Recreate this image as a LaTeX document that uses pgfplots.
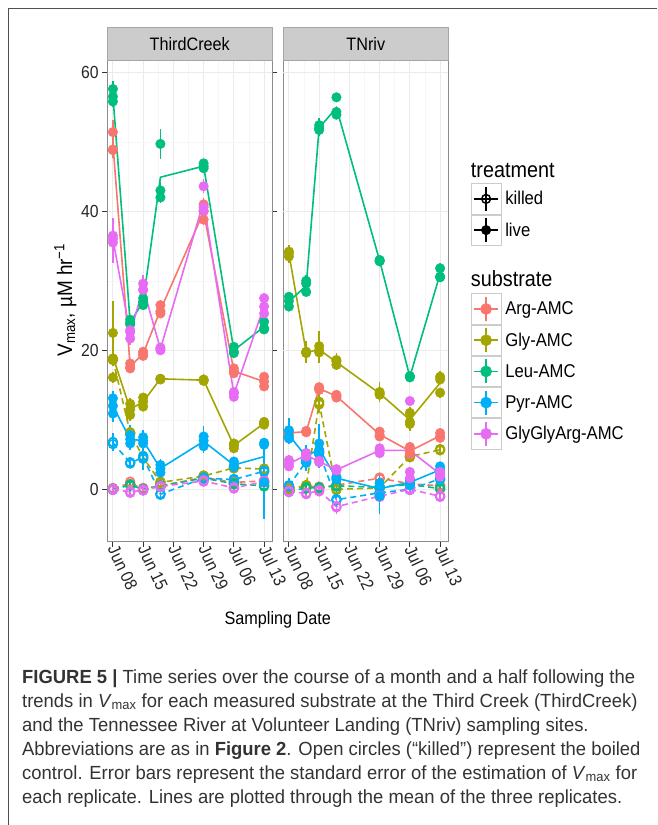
\documentclass[border=0pt]{standalone}
\usepackage{pgfplots}
\pgfplotsset{compat=1.18}
\usepackage{pgfplotstable}
\usepackage{fontspec}
\setmainfont[FakeStretch=0.9]{Liberation Sans}
\newfontfamily\capfont[FakeStretch=0.97]{Liberation Sans}

\definecolor{cArg}{HTML}{F8766D}
\definecolor{cGly}{HTML}{A3A500}
\definecolor{cLeu}{HTML}{00BF7D}
\definecolor{cPyr}{HTML}{00B0F6}
\definecolor{cGGA}{HTML}{E76BF3}
\definecolor{gridmaj}{HTML}{EBEBEB}
\definecolor{gridmin}{HTML}{F6F6F6}
\definecolor{border}{HTML}{8C8C8C}
\definecolor{stripfill}{HTML}{CCCCCC}
\definecolor{stripdraw}{HTML}{A6A6A6}
\definecolor{keybox}{HTML}{CCCCCC}
\definecolor{captext}{HTML}{333333}
\definecolor{frame}{HTML}{505050}

% columns: day, mean of replicates, then replicate value / standard error pairs
% ---------------- ThirdCreek, live ----------------
\pgfplotstableread{
d m y1 e1 y2 e2 y3 e3
0 49.7 51.4 1.8 48.8 1.2 48.9 1.0
4 17.7 17.6 0.6 18.1 0.5 17.4 0.5
7 19.5 19.8 0.6 19.2 0.5 19.5 0.5
11 25.8 26.5 0.8 25.3 0.7 25.6 0.6
21 39.9 41.0 0.9 40.0 0.8 38.8 0.8
28 17.0 17.4 0.6 16.7 0.5 17.0 0.5
35 15.5 16.2 0.6 15.5 0.5 14.8 0.5
}\tcArgL
\pgfplotstableread{
d m y1 e1 y2 e2 y3 e3
0 19.1 22.5 4.6 18.8 1.0 16.1 0.8
4 11.5 12.3 0.8 10.7 0.8 11.5 0.6
7 12.6 13.2 0.6 11.9 0.6 12.6 0.5
11 15.9 15.9 0.5 15.9 0.5 15.8 0.5
21 15.7 15.7 0.9 15.6 0.7 15.8 0.6
28 6.3 6.6 0.6 5.9 0.5 6.3 0.5
35 9.5 9.7 0.6 9.3 0.5 9.5 0.5
}\tcGlyL
\pgfplotstableread{
d m y1 e1 y2 e2 y3 e3
0 56.6 57.6 1.2 56.5 0.9 55.8 0.8
4 24.0 24.4 0.7 23.7 0.6 24.0 0.5
7 27.0 27.5 0.6 26.5 0.6 27.0 0.5
11 44.9 49.7 2.2 43.0 1.2 42.0 0.8
21 46.5 46.9 0.6 46.5 0.5 46.2 0.5
28 20.0 20.5 0.6 19.8 0.5 19.6 0.5
35 23.4 24.1 0.6 23.2 0.5 23.0 0.5
}\tcLeuL
\pgfplotstableread{
d m y1 e1 y2 e2 y3 e3
0 12.0 13.1 1.0 10.9 1.2 12.0 0.8
4 7.2 7.8 1.5 6.6 1.0 7.2 0.8
7 7.0 7.5 1.0 6.6 0.8 7.0 0.7
11 3.0 3.5 0.8 2.4 0.8 3.0 0.6
21 6.9 7.6 1.5 6.2 1.0 7.0 0.8
28 3.5 4.0 0.7 3.2 0.6 3.4 0.6
35 4.7 6.4 0.8 6.7 0.7 1.0 5.3
}\tcPyrL
\pgfplotstableread{
d m y1 e1 y2 e2 y3 e3
0 36.0 36.5 2.6 35.5 2.9 36.0 1.5
4 22.4 22.9 1.5 21.7 1.0 22.6 0.8
7 29.0 29.6 1.2 28.7 0.8 28.7 0.6
11 20.2 20.2 0.6 20.0 0.5 20.4 0.5
21 41.4 43.6 1.0 40.6 0.8 40.1 0.8
28 13.7 14.0 0.6 13.3 0.5 13.8 0.5
35 26.4 27.5 0.8 26.3 0.6 25.3 0.6
}\tcGGAL
% ---------------- ThirdCreek, killed ----------------
\pgfplotstableread{
d m y1 e1 y2 e2 y3 e3
0 0.1 0.2 0.4 0.0 0.3 0.1 0.3
4 0.9 1.1 0.4 0.8 0.4 0.8 0.3
7 0.1 0.1 0.3 0.0 0.3 0.2 0.3
11 0.5 0.6 0.4 0.3 0.3 0.5 0.3
21 1.7 1.8 0.4 1.5 0.4 1.8 0.3
28 1.0 1.1 0.4 0.9 0.3 1.0 0.3
35 1.2 1.3 0.4 1.0 0.3 1.3 0.3
}\tcArgK
\pgfplotstableread{
d m y1 e1 y2 e2 y3 e3
0 18.7 18.8 0.8 18.6 0.6 18.7 0.6
4 8.1 8.2 0.8 8.0 0.6 8.1 0.6
7 4.6 4.8 1.0 4.4 0.8 4.6 0.7
11 1.0 1.1 0.4 0.9 0.4 1.0 0.3
21 1.9 2.0 0.4 1.8 0.4 1.9 0.3
28 3.1 3.2 0.5 3.0 0.4 3.1 0.4
35 2.9 3.0 0.5 2.8 0.4 2.9 0.4
}\tcGlyK
\pgfplotstableread{
d m y1 e1 y2 e2 y3 e3
0 0.0 0.1 0.3 -0.1 0.3 0.0 0.3
4 0.6 0.7 0.3 0.5 0.3 0.6 0.3
7 0.0 0.1 0.3 -0.1 0.3 0.0 0.3
11 0.5 0.6 0.3 0.4 0.3 0.5 0.3
21 1.6 1.7 0.4 1.5 0.3 1.6 0.3
28 0.8 0.9 0.3 0.7 0.3 0.8 0.3
35 0.5 0.6 0.3 0.4 0.3 0.5 0.3
}\tcLeuK
\pgfplotstableread{
d m y1 e1 y2 e2 y3 e3
0 6.7 6.8 1.3 6.5 1.0 6.8 0.8
4 3.8 3.9 0.8 3.7 0.6 3.8 0.6
7 4.6 4.8 2.0 4.4 1.5 4.6 1.0
11 -0.7 -0.6 1.0 -0.8 0.8 -0.7 0.6
21 1.6 1.7 0.5 1.5 0.4 1.6 0.4
28 1.4 1.5 0.5 1.3 0.4 1.4 0.4
35 2.6 2.7 0.6 2.5 0.5 2.6 0.4
}\tcPyrK
\pgfplotstableread{
d m y1 e1 y2 e2 y3 e3
0 0.0 0.1 0.3 -0.1 0.3 0.0 0.3
4 -0.4 -0.3 0.4 -0.5 0.3 -0.4 0.3
7 -0.1 0.0 0.3 -0.2 0.3 -0.1 0.3
11 0.4 0.5 0.3 0.3 0.3 0.4 0.3
21 1.2 1.3 0.4 1.1 0.3 1.2 0.3
28 0.2 0.3 0.3 0.1 0.3 0.2 0.3
35 1.1 1.2 0.4 1.0 0.3 1.1 0.3
}\tcGGAK
% ---------------- TNriv, live ----------------
\pgfplotstableread{
d m y1 e1 y2 e2 y3 e3
0 8.1 8.1 0.5 8.0 0.4 8.2 0.4
4 8.3 8.4 0.5 8.2 0.4 8.3 0.4
7 14.5 14.7 0.6 14.3 0.5 14.5 0.5
11 13.4 13.6 0.6 13.2 0.5 13.4 0.5
21 7.9 8.3 0.5 7.6 0.5 7.8 0.4
28 5.5 6.1 0.5 5.4 0.5 5.0 0.4
35 7.7 8.1 0.5 7.4 0.5 7.6 0.4
}\tnArgL
\pgfplotstableread{
d m y1 e1 y2 e2 y3 e3
0 33.9 34.0 1.2 33.5 0.9 34.2 0.8
4 19.7 19.8 1.6 19.6 1.2 19.7 1.0
7 20.1 20.6 2.2 19.7 1.5 20.0 1.0
11 18.3 18.6 1.0 17.9 0.8 18.4 0.7
21 13.8 14.0 1.4 13.6 1.0 13.8 0.8
28 10.0 11.0 0.8 9.7 0.8 9.4 1.0
35 15.3 16.2 0.8 13.9 0.7 15.8 0.6
}\tnGlyL
\pgfplotstableread{
d m y1 e1 y2 e2 y3 e3
0 27.0 27.7 0.7 26.3 0.6 27.1 0.6
4 29.3 30.0 0.8 29.6 0.7 28.4 0.6
7 52.0 52.4 1.0 51.7 0.8 52.0 0.7
11 54.9 56.4 0.6 54.3 0.6 53.9 0.6
21 32.9 33.0 0.6 32.8 0.5 32.9 0.5
28 16.2 16.3 0.6 16.1 0.5 16.2 0.5
35 31.0 31.8 0.8 30.5 0.7 30.6 0.6
}\tnLeuL
\pgfplotstableread{
d m y1 e1 y2 e2 y3 e3
0 7.8 8.5 1.8 7.6 1.0 7.3 0.8
4 4.7 5.2 1.2 4.8 0.9 4.0 0.8
7 5.8 6.6 2.8 5.7 1.5 5.2 1.0
11 1.6 1.8 0.8 1.4 0.6 1.6 0.6
21 0.1 0.9 1.2 -1.0 2.5 0.4 1.0
28 1.0 1.4 0.6 0.6 0.5 1.0 0.5
35 2.8 3.3 0.6 2.3 0.5 2.8 0.5
}\tnPyrL
\pgfplotstableread{
d m y1 e1 y2 e2 y3 e3
0 3.7 4.2 0.8 3.3 0.7 3.7 0.6
4 4.9 5.2 0.6 4.7 0.5 4.9 0.5
7 4.0 4.1 0.5 3.9 0.5 4.0 0.5
11 2.8 2.9 0.5 2.7 0.5 2.8 0.5
21 5.6 5.9 0.5 5.2 0.5 5.6 0.5
28 5.6 12.7 0.5 2.5 0.5 1.6 0.5
35 2.2 2.5 0.5 1.9 0.5 2.2 0.5
}\tnGGAL
% ---------------- TNriv, killed ----------------
\pgfplotstableread{
d m y1 e1 y2 e2 y3 e3
0 0.2 0.3 0.3 0.1 0.3 0.2 0.3
4 0.5 0.6 0.3 0.4 0.3 0.5 0.3
7 0.3 0.4 0.3 0.2 0.3 0.3 0.3
11 0.6 0.7 0.3 0.5 0.3 0.6 0.3
21 1.6 1.7 0.4 1.5 0.3 1.6 0.3
28 0.8 0.9 0.3 0.7 0.3 0.8 0.3
35 0.5 0.6 0.3 0.4 0.3 0.5 0.3
}\tnArgK
\pgfplotstableread{
d m y1 e1 y2 e2 y3 e3
0 0.0 0.1 0.3 -0.1 0.3 0.0 0.3
4 0.5 0.6 0.3 0.4 0.3 0.5 0.3
7 12.4 12.6 1.5 12.2 1.2 12.4 1.0
11 0.0 0.1 0.4 -0.1 0.3 0.0 0.3
21 0.2 0.3 0.4 0.1 0.3 0.2 0.3
28 4.7 4.8 0.8 4.6 0.6 4.7 0.5
35 5.7 5.8 0.6 5.6 0.5 5.7 0.5
}\tnGlyK
\pgfplotstableread{
d m y1 e1 y2 e2 y3 e3
0 -0.3 -0.2 0.3 -0.4 0.3 -0.3 0.3
4 0.2 0.3 0.3 0.1 0.3 0.2 0.3
7 0.2 0.3 0.3 0.1 0.3 0.2 0.3
11 0.5 0.6 0.3 0.4 0.3 0.5 0.3
21 0.3 0.4 0.3 0.2 0.3 0.3 0.3
28 0.7 0.8 0.3 0.6 0.3 0.7 0.3
35 0.1 0.2 0.3 0.0 0.3 0.1 0.3
}\tnLeuK
\pgfplotstableread{
d m y1 e1 y2 e2 y3 e3
0 0.5 0.6 1.0 0.4 0.8 0.5 0.6
4 4.0 4.2 1.5 3.8 1.2 4.0 1.0
7 5.3 5.5 2.5 5.1 1.5 5.3 1.0
11 -1.5 -1.4 1.5 -1.6 1.0 -1.5 0.8
21 -0.5 -0.4 1.0 -0.6 0.8 -0.5 0.6
28 0.0 0.1 0.5 -0.1 0.4 0.0 0.4
35 1.5 1.6 0.6 1.4 0.5 1.5 0.4
}\tnPyrK
\pgfplotstableread{
d m y1 e1 y2 e2 y3 e3
0 -0.3 -0.2 0.4 -0.4 0.3 -0.3 0.3
4 -0.6 -0.5 0.4 -0.7 0.3 -0.6 0.3
7 -0.2 -0.1 0.4 -0.3 0.3 -0.2 0.3
11 -2.5 -2.4 1.2 -2.6 0.8 -2.5 0.6
21 -1.0 -0.9 0.6 -1.1 0.5 -1.0 0.4
28 0.0 0.1 0.4 -0.1 0.3 0.0 0.3
35 -1.0 -0.9 0.5 -1.1 0.4 -1.0 0.3
}\tnGGAK

\pgfplotsset{
  liveline/.style={solid, line width=1.6pt},
  killedline/.style={dash pattern=on 6pt off 4pt, line width=1.6pt},
  livepts/.style={mark=*, mark size=4.8pt, mark options={solid}},
  killedpts/.style={mark=o, mark size=4.4pt, mark options={solid, line width=1.5pt}},
  panel/.style={
    scale only axis, width=165pt, height=481.7pt, anchor=south west,
    xmin=-1.3, xmax=36.9, ymin=-7.54, ymax=61.77,
    xtick={0,7,14,21,28,35},
    xticklabels={Jun 08,Jun 15,Jun 22,Jun 29,Jul 06,Jul 13},
    minor xtick={3.5,10.5,17.5,24.5,31.5},
    minor ytick={10,30,50},
    grid=both,
    major grid style={draw=gridmaj, line width=0.9pt},
    minor grid style={draw=gridmin, line width=0.6pt},
    tick align=outside, major tick length=5pt, minor tick length=0pt,
    tick style={draw=black!80, line width=1.1pt},
    axis line style={draw=border, line width=1.2pt},
    /pgf/number format/assume math mode=true,
    ticklabel style={font=\fontsize{17.5}{17.5}\selectfont, text=black!85},
    xticklabel style={rotate=-65, anchor=west, inner sep=1.5pt, xshift=-2pt},
    yticklabel style={inner sep=3.5pt},
  },
  % a boxed key: horizontal line, vertical bar and a circle
  legkey/.style n args={2}{legend image code/.code={
    \draw[draw=keybox, fill=white, line width=0.9pt] (0pt,-15.15pt) rectangle (30.3pt,15.15pt);
    \draw[#1, line width=1.5pt] (3pt,0pt) -- (27.3pt,0pt);
    \draw[#1, line width=1.5pt] (15.15pt,-12pt) -- (15.15pt,12pt);
    #2}},
  % a title row: only reserves height, its text hangs over the key column
  legtitle/.style n args={3}{legend image code/.code={
    \path[draw=none, fill=none] (0pt,-#2) rectangle (30.3pt,#3);
    \node[overlay, anchor=base west, inner sep=0pt, draw=none, fill=none, text=black,
      font=\fontsize{22}{22}\selectfont] at (0pt,-7pt) {#1};}},
}

% mean line of one series
\newcommand\meanline[3]{%
  \addplot[forget plot, color=#2, #3line, no marks] table[x=d, y=m]{#1};}
% the three replicates of one series, each with its standard error
\newcommand\reppts[3]{%
  \pgfplotsinvokeforeach{1,2,3}{%
    \addplot[forget plot, color=#2, only marks, #3pts,
      error bars/.cd, y dir=both, y explicit, error mark=none,
      error bar style={solid, line width=1.5pt}]
      table[x=d, y=y##1, y error=e##1]{#1};}}

\begin{document}
\begin{tikzpicture}
\useasboundingbox (0pt,0pt) rectangle (657pt,-825pt);
\draw[frame, line width=1.6pt] (657pt,-8.3pt) -- (8.3pt,-8.3pt) -- (8.3pt,-825pt);

% ---------------- ThirdCreek panel ----------------
\begin{axis}[panel, at={(107.3pt,-541.7pt)}, ytick={0,20,40,60}]
\meanline{\tcArgK}{cArg}{killed}
\meanline{\tcGlyK}{cGly}{killed}
\meanline{\tcLeuK}{cLeu}{killed}
\meanline{\tcPyrK}{cPyr}{killed}
\meanline{\tcGGAK}{cGGA}{killed}
\meanline{\tcArgL}{cArg}{live}
\meanline{\tcGlyL}{cGly}{live}
\meanline{\tcLeuL}{cLeu}{live}
\meanline{\tcPyrL}{cPyr}{live}
\meanline{\tcGGAL}{cGGA}{live}
\reppts{\tcArgK}{cArg}{killed}
\reppts{\tcGlyK}{cGly}{killed}
\reppts{\tcLeuK}{cLeu}{killed}
\reppts{\tcPyrK}{cPyr}{killed}
\reppts{\tcGGAK}{cGGA}{killed}
\reppts{\tcArgL}{cArg}{live}
\reppts{\tcGlyL}{cGly}{live}
\reppts{\tcLeuL}{cLeu}{live}
\reppts{\tcPyrL}{cPyr}{live}
\reppts{\tcGGAL}{cGGA}{live}
\end{axis}

% ---------------- TNriv panel ----------------
\begin{axis}[panel, at={(283.3pt,-541.7pt)},
  ytick=\empty, extra y ticks={0,20,40,60}, extra y tick labels={},
  extra y tick style={grid=major, major tick length=0pt},
  legend style={at={(axis description cs:1.1345,0.7976)}, anchor=north west,
    draw=none, fill=none, inner sep=0pt, outer sep=0pt,
    row sep=0pt, column sep=3.6pt,
    nodes={inner sep=0pt, outer sep=0pt, font=\fontsize{18.5}{18.5}\selectfont}},
  legend cell align=left]
\meanline{\tnArgK}{cArg}{killed}
\meanline{\tnGlyK}{cGly}{killed}
\meanline{\tnLeuK}{cLeu}{killed}
\meanline{\tnPyrK}{cPyr}{killed}
\meanline{\tnGGAK}{cGGA}{killed}
\meanline{\tnArgL}{cArg}{live}
\meanline{\tnGlyL}{cGly}{live}
\meanline{\tnLeuL}{cLeu}{live}
\meanline{\tnPyrL}{cPyr}{live}
\meanline{\tnGGAL}{cGGA}{live}
\reppts{\tnArgK}{cArg}{killed}
\reppts{\tnGlyK}{cGly}{killed}
\reppts{\tnLeuK}{cLeu}{killed}
\reppts{\tnPyrK}{cPyr}{killed}
\reppts{\tnGGAK}{cGGA}{killed}
\reppts{\tnArgL}{cArg}{live}
\reppts{\tnGlyL}{cGly}{live}
\reppts{\tnLeuL}{cLeu}{live}
\reppts{\tnPyrL}{cPyr}{live}
\reppts{\tnGGAL}{cGGA}{live}
% legend: treatment and substrate
\addlegendimage{legtitle={treatment}{12.8pt}{13pt}}
\addlegendentry{\mbox{}}
\addlegendimage{legkey={black}{\draw[black, line width=1.5pt] (15.15pt,0pt) circle (4.4pt);}}
\addlegendentry{killed}
\addlegendimage{legkey={black}{\fill[black] (15.15pt,0pt) circle (4.8pt);}}
\addlegendentry{live}
\addlegendimage{legtitle={substrate}{13.7pt}{34pt}}
\addlegendentry{\mbox{}}
\addlegendimage{legkey={cArg}{\fill[cArg] (15.15pt,0pt) circle (5.6pt);}}
\addlegendentry{Arg-AMC}
\addlegendimage{legkey={cGly}{\fill[cGly] (15.15pt,0pt) circle (5.6pt);}}
\addlegendentry{Gly-AMC}
\addlegendimage{legkey={cLeu}{\fill[cLeu] (15.15pt,0pt) circle (5.6pt);}}
\addlegendentry{Leu-AMC}
\addlegendimage{legkey={cPyr}{\fill[cPyr] (15.15pt,0pt) circle (5.6pt);}}
\addlegendentry{Pyr-AMC}
\addlegendimage{legkey={cGGA}{\fill[cGGA] (15.15pt,0pt) circle (5.6pt);}}
\addlegendentry{GlyGlyArg-AMC}
\end{axis}

% facet strips
\draw[fill=stripfill, draw=stripdraw, line width=0.8pt] (107.3pt,-27.3pt) rectangle (272.3pt,-60pt);
\draw[fill=stripfill, draw=stripdraw, line width=0.8pt] (283.3pt,-27.3pt) rectangle (448.3pt,-60pt);
\node[font=\fontsize{18}{18}\selectfont] at (189.8pt,-43.6pt) {ThirdCreek};
\node[font=\fontsize{18}{18}\selectfont] at (365.8pt,-43.6pt) {TNriv};

% axis titles
\node[rotate=90, anchor=base, font=\fontsize{21}{21}\selectfont] at (72pt,-300pt)
  {V\textsubscript{max}, µM hr\textsuperscript{−1}};
\node[anchor=base, font=\fontsize{18}{18}\selectfont] at (277.8pt,-624pt) {Sampling Date};

% caption
\begin{scope}[every node/.style={anchor=base west, inner sep=0pt, text=captext,
    font=\capfont\fontsize{19}{19}\selectfont}]
\node at (22pt,-683pt) {\textbf{FIGURE 5 |} Time series over the course of a month and a half following the};
\node at (22pt,-707pt) {trends in \textit{V}\textsubscript{max} for each measured substrate at the Third Creek (ThirdCreek)};
\node at (22pt,-731pt) {and the Tennessee River at Volunteer Landing (TNriv) sampling sites.};
\node at (22pt,-755pt) {Abbreviations are as in \textbf{Figure 2}. Open circles (“killed”) represent the boiled};
\node at (22pt,-779pt) {control. Error bars represent the standard error of the estimation of \textit{V}\textsubscript{max} for};
\node at (22pt,-803pt) {each replicate. Lines are plotted through the mean of the three replicates.};
\end{scope}
\end{tikzpicture}
\end{document}
